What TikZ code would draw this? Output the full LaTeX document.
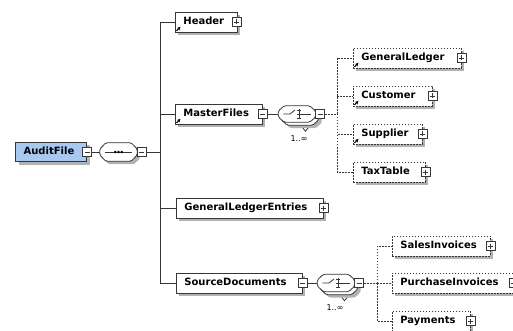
\documentclass[tikz,border=0pt]{standalone}
\usepackage{fontspec}
\newfontfamily\lblfont{DejaVu Sans}
\usetikzlibrary{shadows,arrows.meta,calc}
\definecolor{afblue}{RGB}{168,200,240}
\definecolor{lnc}{RGB}{55,55,55}
\newcommand\octpath[1]{([xshift=6pt]#1.north west) -- ([xshift=-6pt]#1.north east) -- ([yshift=3pt]#1.east) -- ([yshift=-3pt]#1.east) -- ([xshift=-6pt]#1.south east) -- ([xshift=6pt]#1.south west) -- ([yshift=-3pt]#1.west) -- ([yshift=3pt]#1.west) -- cycle}
\tikzset{
  box/.style={draw=lnc, fill=white, line width=0.8pt, minimum height=20pt,
    inner xsep=8pt, inner ysep=0pt, anchor=west, align=left,
    font=\lblfont\bfseries\fontsize{10}{12}\selectfont,
    text height=7.5pt, text depth=2pt,
    drop shadow={shadow xshift=3pt, shadow yshift=-3pt, fill=black!30, opacity=1}},
  optbox/.style={box, dash pattern=on 1.6pt off 1.4pt},
  pbox/.style={draw=lnc, fill=white, line width=0.7pt, minimum width=9pt,
    minimum height=9pt, inner sep=0pt},
  plusbox/.style={pbox, path picture={
    \draw[line width=0.7pt,lnc] ([xshift=2pt]path picture bounding box.west) -- ([xshift=-2pt]path picture bounding box.east);
    \draw[line width=0.7pt,lnc] ([yshift=-2pt]path picture bounding box.north) -- ([yshift=2pt]path picture bounding box.south);}},
  minusbox/.style={pbox, path picture={
    \draw[line width=0.7pt,lnc] ([xshift=2pt]path picture bounding box.west) -- ([xshift=-2pt]path picture bounding box.east);}},
  comp/.style={rectangle, draw=none, inner sep=0pt, minimum width=37pt, minimum height=17pt},
  compline/.style={draw=lnc, fill=white, line width=0.8pt, rounded corners=1.5pt},
  compshadow/.style={fill=black!30, rounded corners=1.5pt, transform canvas={shift={(3pt,-3pt)}}},
  conn/.style={draw=lnc, line width=0.8pt},
  dconn/.style={conn, dash pattern=on 1.5pt off 1.5pt},
  refarrow/.style={-{Stealth[length=3.5pt,width=3.5pt]}, line width=1.1pt, black},
  card/.style={font=\lblfont\fontsize{8}{9}\selectfont, inner sep=0pt},
}
\begin{document}
\begin{tikzpicture}[x=1pt,y=-1pt]
\useasboundingbox (0,0) rectangle (513,331);
\fill[white] (0,0) rectangle (513,331);

% root
\node[box, fill=afblue, line width=1.2pt, minimum height=19pt, text width=55pt] (af) at (15,152) {AuditFile};
\node[minusbox] (afm) at (af.east) {};
\node[comp, minimum height=18pt] (seq) at (118.5,152) {};
\path[compshadow] \octpath{seq};
\path[compline] \octpath{seq};
\node[minusbox] (seqm) at ([xshift=4.5pt]seq.east) {};
\draw[conn] ([xshift=5pt]seq.west) -- ([xshift=-5pt]seq.east);
\foreach \d in {-3.2,0,3.2} \fill[black] ([xshift=\d pt]seq.center) circle (1.4pt);
\draw[conn] (afm.east) -- (seq.west);
\coordinate (trk) at (160,152);
\draw[conn] (seqm.east) -- (trk);

% level 1
\node[box, text width=46pt] (hdr) at (175,22) {Header};
\node[plusbox] (hdrp) at ([xshift=-1pt]hdr.east) {};
\node[box, text width=71pt] (mf) at (175,114) {MasterFiles};
\node[minusbox] (mfm) at (mf.east) {};
\node[box, text width=131pt] (gle) at (176,208) {GeneralLedgerEntries};
\node[plusbox] (glep) at (gle.east) {};
\node[box, text width=110pt] (sd) at (176,283) {SourceDocuments};
\node[minusbox] (sdm) at (sd.east) {};
\draw[conn] (trk) |- (hdr.west);
\draw[conn] (trk) |- (mf.west);
\draw[conn] (trk) |- (gle.west);
\draw[conn] (trk) |- (sd.west);

% choice under MasterFiles
\node[comp, minimum height=16pt] (ch1b) at (300,117) {};
\node[comp, minimum height=16pt] (ch1) at (297,114) {};
\path[compshadow] \octpath{ch1b};
\path[compline] \octpath{ch1b};
\path[compline] \octpath{ch1};
\node[minusbox] (ch1m) at ([xshift=4.5pt]ch1.east) {};
\draw[conn] ([xshift=5pt]ch1.west) -- ([xshift=-7pt]ch1.center) -- ([xshift=-2pt,yshift=4pt]ch1.center);
\draw[conn] ([xshift=2pt,yshift=5pt]ch1.center) -- ([xshift=2pt,yshift=-5pt]ch1.center);
\foreach \d in {-4,0,4} \draw[conn] ([xshift=0pt,yshift=\d pt]ch1.center) -- ([xshift=4pt,yshift=\d pt]ch1.center);
\draw[conn] ([xshift=4pt]ch1.center) -- ([xshift=-5pt]ch1.east);
\draw[conn] ([xshift=3pt,yshift=-3pt]ch1b.south) -- ++(2.5pt,-3pt) -- ++(2.5pt,3pt);
\node[card] (ch1c) at (299,139) {1..∞};
\draw[conn] (mfm.east) -- (ch1.west);
\coordinate (d1) at (337,114);
\draw[dconn] (ch1m.east) -- (d1);

\node[optbox, text width=92pt] (gl) at (353,58) {GeneralLedger};
\node[plusbox] (glp) at (gl.east) {};
\node[optbox, text width=63pt] (cu) at (353,96) {Customer};
\node[plusbox] (cup) at (cu.east) {};
\node[optbox, text width=53pt] (su) at (353,134) {Supplier};
\node[plusbox] (sup) at (su.east) {};
\node[optbox, text width=56pt] (tt) at (353,172) {TaxTable};
\node[plusbox] (ttp) at (tt.east) {};
\draw[dconn] (d1) |- (gl.west);
\draw[dconn] (d1) |- (cu.west);
\draw[dconn] (d1) |- (su.west);
\draw[dconn] (d1) |- (tt.west);

% choice under SourceDocuments
\node[comp, minimum height=17pt] (ch2b) at (339,286) {};
\node[comp, minimum height=17pt] (ch2) at (336,283) {};
\path[compshadow] \octpath{ch2b};
\path[compline] \octpath{ch2b};
\path[compline] \octpath{ch2};
\node[minusbox] (ch2m) at ([xshift=4.5pt]ch2.east) {};
\draw[conn] ([xshift=5pt]ch2.west) -- ([xshift=-7pt]ch2.center) -- ([xshift=-2pt,yshift=4pt]ch2.center);
\draw[conn] ([xshift=2pt,yshift=5pt]ch2.center) -- ([xshift=2pt,yshift=-5pt]ch2.center);
\foreach \d in {-4,0,4} \draw[conn] ([xshift=0pt,yshift=\d pt]ch2.center) -- ([xshift=4pt,yshift=\d pt]ch2.center);
\draw[conn] ([xshift=4pt]ch2.center) -- ([xshift=-5pt]ch2.east);
\draw[conn] ([xshift=3pt,yshift=-3pt]ch2b.south) -- ++(2.5pt,-3pt) -- ++(2.5pt,3pt);
\node[card] (ch2c) at (335,308) {1..∞};
\draw[conn] (sdm.east) -- (ch2.west);
\coordinate (d2) at (377,283);
\draw[dconn] (ch2m.east) -- (d2);

\node[optbox, text width=82pt] (si) at (392,246) {SalesInvoices};
\node[plusbox] (sip) at (si.east) {};
\node[optbox, text width=105pt] (pi) at (392,283) {PurchaseInvoices};
\node[plusbox] (pip) at (pi.east) {};
\node[optbox, text width=62pt] (pa) at (392,321) {Payments};
\node[plusbox] (pap) at (pa.east) {};
\draw[dconn] (d2) |- (si.west);
\draw[dconn] (d2) |- (pi.west);
\draw[dconn] (d2) |- (pa.west);

% reference arrows
\foreach \n in {hdr,mf,gl,cu,su}
  \draw[refarrow] ([xshift=1.5pt,yshift=1.5pt]\n.south west) -- ++(4pt,4pt);
\end{tikzpicture}
\end{document}
